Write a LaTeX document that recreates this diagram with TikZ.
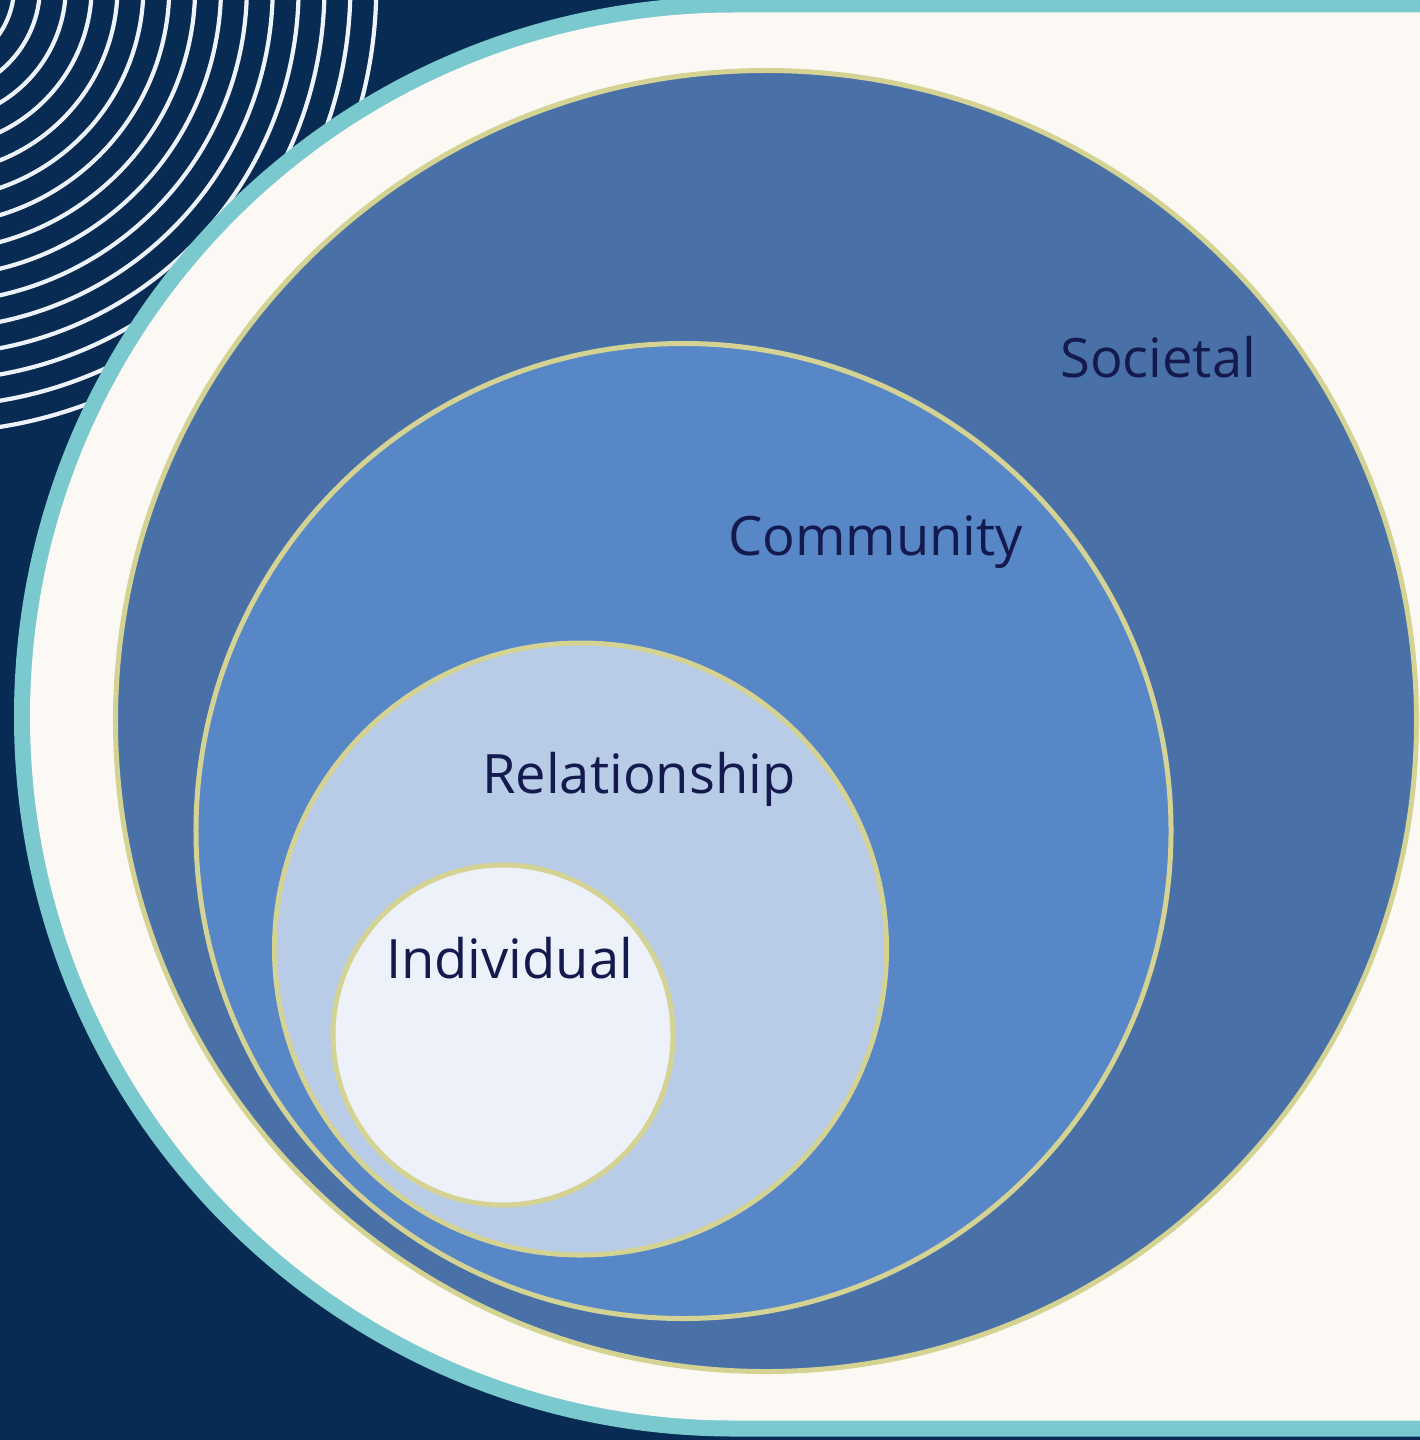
\documentclass[tikz,border=0pt]{standalone}
\usepackage{fontspec}
\setmainfont{Open Sans}
\definecolor{navy}{HTML}{072B53}
\definecolor{teal}{HTML}{79C9CF}
\definecolor{cream}{HTML}{FCF9F4}
\definecolor{socfill}{HTML}{4A70A8}
\definecolor{comfill}{HTML}{5887C8}
\definecolor{relfill}{HTML}{B8CCE8}
\definecolor{indfill}{HTML}{EDF2FA}
\definecolor{ringline}{HTML}{D4D393}
\definecolor{labeltext}{HTML}{151A4E}
\definecolor{arcline}{HTML}{EEF2FA}
\begin{document}
\begin{tikzpicture}[x=1bp,y=-1bp,
  level/.style={circle,draw=ringline,line width=5bp,inner sep=0pt,minimum size=#1},
  lbl/.style={anchor=base west,text=labeltext,inner sep=0pt,font=\fontsize{54.5}{60}\selectfont},
  ripple/.style={draw=arcline,line width=4.2bp}]
\useasboundingbox (0,0) rectangle (1420,1440);
\clip (0,0) rectangle (1420,1440);
\fill[navy] (0,0) rectangle (1420,1440);
% ripples
\coordinate (rc) at (-69.4,-13.4);
\foreach \k in {0,...,14}{
  \draw[ripple] (rc) circle[radius={83.5+25.87*\k}];
}
% frame
\fill[teal] (1440,-3.5) -- (734,-3.5) arc[start angle=270,end angle=90,radius=720] -- (1440,1436.5) -- cycle;
\fill[cream] (1440,12.5) -- (734,12.5) arc[start angle=270,end angle=90,radius=704] -- (1440,1420.5) -- cycle;
% levels
\node[level=1301bp,fill=socfill] (soc) at (766,721) {};
\node[level=975bp,fill=comfill] (com) at (683.5,831) {};
\node[level=612bp,fill=relfill] (rel) at (580.5,949) {};
\node[level=340bp,fill=indfill] (ind) at (503,1035) {};
% labels
\node[lbl] (socl) at (1060,377) {Societal};
\node[lbl] (coml) at (728,555) {Community};
\node[lbl] (rell) at (482,793) {Relationship};
\node[lbl] (indl) at (386,978) {Individual};
\end{tikzpicture}
\end{document}
